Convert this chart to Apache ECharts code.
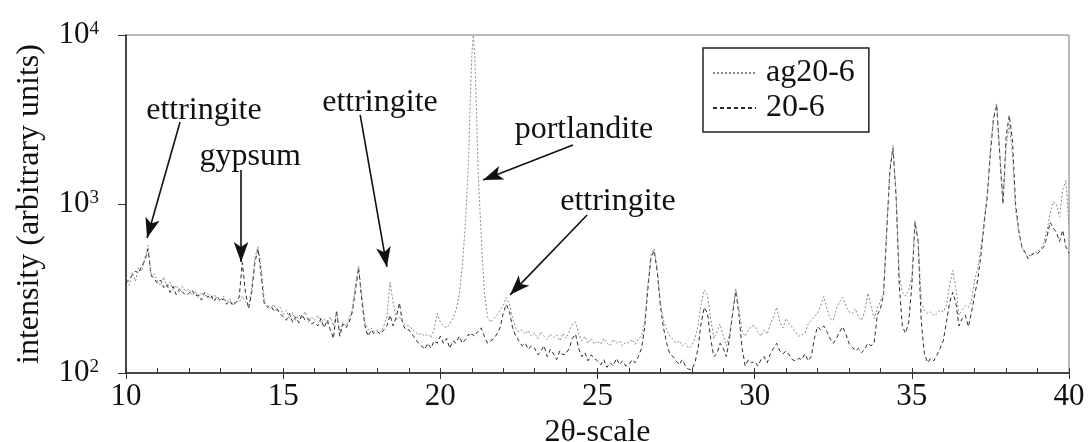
<!DOCTYPE html>
<html>
<head>
<meta charset="utf-8">
<script src="https://cdn.jsdelivr.net/npm/echarts@6/dist/echarts.min.js"></script>
<style>
  html, body { margin: 0; padding: 0; background: #fff; }
  #chart { width: 1089px; height: 442px; }
</style>
</head>
<body>
<div id="chart"></div>
<script>
// 2-theta positions (deg), rows per degree
const twoTheta = [
  10.0, 10.1, 10.2, 10.3, 10.4, 10.5, 10.6, 10.7, 10.8, 10.9,
  11.0, 11.1, 11.2, 11.3, 11.4, 11.5, 11.6, 11.7, 11.8, 11.9,
  12.0, 12.1, 12.2, 12.3, 12.4, 12.5, 12.6, 12.7, 12.8, 12.9,
  13.0, 13.1, 13.2, 13.3, 13.4, 13.5, 13.6, 13.7, 13.8, 13.9,
  14.0, 14.1, 14.2, 14.3, 14.4, 14.5, 14.6, 14.7, 14.8, 14.9,
  15.0, 15.1, 15.2, 15.3, 15.4, 15.5, 15.6, 15.7, 15.8, 15.9,
  16.0, 16.1, 16.2, 16.3, 16.4, 16.5, 16.6, 16.7, 16.8, 16.9,
  17.0, 17.1, 17.2, 17.3, 17.4, 17.5, 17.6, 17.7, 17.8, 17.9,
  18.0, 18.1, 18.2, 18.3, 18.4, 18.5, 18.6, 18.7, 18.8, 18.9,
  19.0, 19.1, 19.2, 19.3, 19.4, 19.5, 19.6, 19.7, 19.8, 19.9,
  20.0, 20.1, 20.2, 20.3, 20.4, 20.5, 20.6, 20.7, 20.8, 20.9, 20.95,
  21.0, 21.05, 21.1, 21.15, 21.2, 21.3, 21.4, 21.5, 21.6, 21.7, 21.8, 21.9,
  22.0, 22.1, 22.2, 22.3, 22.4, 22.5, 22.6, 22.7, 22.8, 22.9,
  23.0, 23.1, 23.2, 23.3, 23.4, 23.5, 23.6, 23.7, 23.8, 23.9,
  24.0, 24.1, 24.2, 24.3, 24.4, 24.5, 24.6, 24.7, 24.8, 24.9,
  25.0, 25.1, 25.2, 25.3, 25.4, 25.5, 25.6, 25.7, 25.8, 25.9,
  26.0, 26.1, 26.2, 26.3, 26.4, 26.5, 26.6, 26.7, 26.8, 26.9,
  27.0, 27.1, 27.2, 27.3, 27.4, 27.5, 27.6, 27.7, 27.8, 27.9,
  28.0, 28.1, 28.2, 28.3, 28.4, 28.5, 28.6, 28.7, 28.8, 28.9,
  29.0, 29.1, 29.2, 29.3, 29.4, 29.5, 29.6, 29.7, 29.8, 29.9,
  30.0, 30.1, 30.2, 30.3, 30.4, 30.5, 30.6, 30.7, 30.8, 30.9,
  31.0, 31.1, 31.2, 31.3, 31.4, 31.5, 31.6, 31.7, 31.8, 31.9,
  32.0, 32.1, 32.2, 32.3, 32.4, 32.5, 32.6, 32.7, 32.8, 32.9,
  33.0, 33.1, 33.2, 33.3, 33.4, 33.5, 33.6, 33.7, 33.8, 33.9,
  34.0, 34.1, 34.2, 34.3, 34.4, 34.5, 34.6, 34.7, 34.8, 34.9,
  35.0, 35.1, 35.2, 35.3, 35.4, 35.5, 35.6, 35.7, 35.8, 35.9,
  36.0, 36.1, 36.2, 36.3, 36.4, 36.5, 36.6, 36.7, 36.8, 36.9,
  37.0, 37.1, 37.2, 37.3, 37.4, 37.5, 37.6, 37.7, 37.8, 37.9,
  38.0, 38.1, 38.2, 38.3, 38.4, 38.5, 38.6, 38.7, 38.8, 38.9,
  39.0, 39.1, 39.2, 39.3, 39.4, 39.5, 39.6, 39.7, 39.8, 39.9,
  40.0
];

// ag20-6 intensity
const ag206 = [
  370, 330, 395, 350, 420, 400, 480, 570, 370, 385,
  350, 330, 370, 320, 345, 310, 330, 300, 325, 305,
  315, 290, 305, 280, 300, 285, 295, 275, 290, 280,
  270, 285, 262, 275, 255, 268, 262, 285, 265, 245,
  320, 480, 560, 420, 265, 250, 240, 255, 230, 245,
  222, 235, 210, 228, 205, 220, 212, 230, 200, 215,
  205, 220, 198, 210, 195, 215, 190, 225, 175, 200,
  190, 210, 240, 330, 430, 290, 200, 180, 185, 175,
  180, 175, 190, 215, 345, 260, 205, 215, 200, 190,
  190, 182, 175, 168, 172, 165, 170, 162, 180, 225,
  200, 190, 185, 195, 210, 235, 290, 430, 780, 1900, 4000,
  7500, 10000, 7200, 3600, 1600, 650, 300, 215, 200, 210, 220, 235,
  250, 280, 255, 210, 185, 175, 180, 170, 178, 165,
  172, 160, 175, 165, 158, 170, 162, 168, 155, 172,
  160, 175, 195, 200, 170, 155, 165, 150, 160, 148,
  155, 148, 160, 150, 145, 158, 150, 155, 145, 152,
  150, 158, 148, 160, 165, 200, 330, 500, 545, 420,
  260, 205, 180, 165, 158, 150, 155, 145, 150, 140,
  145, 160, 190, 260, 310, 290, 210, 160, 175, 195,
  165, 145, 170, 230, 315, 240, 175, 165, 180, 190,
  190, 175, 165, 180, 170, 195, 215, 245, 200, 185,
  210, 195, 185, 175, 165, 168, 172, 195, 205, 215,
  225, 250, 283, 240, 210, 205, 240, 265, 280, 250,
  230, 225, 240, 215, 205, 230, 296, 250, 210, 240,
  265, 300, 700, 1600, 2230, 1150, 380, 300, 285, 310,
  370, 800, 620, 260, 235, 225, 230, 218, 225, 235,
  230, 250, 330, 405, 320, 220, 235, 250, 245, 270,
  355, 420, 555, 800, 1160, 2100, 3300, 3950, 2000, 1050,
  2200, 2950, 2000, 920, 680, 555, 510, 490, 505, 520,
  520, 545, 590, 700, 880, 1030, 1000, 840, 1210, 1380,
  730
];

// 20-6 intensity
const s206 = [
  340, 360, 380, 400, 390, 430, 460, 540, 380, 360,
  340, 355, 320, 335, 300, 325, 290, 315, 300, 290,
  295, 310, 285, 290, 270, 300, 280, 290, 265, 285,
  265, 275, 255, 268, 250, 262, 280, 450, 300, 240,
  300, 450, 545, 380, 255, 245, 250, 235, 240, 225,
  215, 205, 225, 200, 215, 198, 222, 205, 210, 195,
  200, 190, 210, 185, 205, 180, 160, 235, 165, 195,
  185, 200, 230, 310, 420, 270, 190, 165, 180, 170,
  175, 170, 180, 190, 220, 190, 215, 260, 195, 180,
  180, 170, 160, 150, 145, 138, 150, 140, 155, 150,
  165, 150, 160, 140, 155, 150, 165, 150, 158, 170, 165,
  170, 168, 165, 172, 175, 185, 165, 150, 155, 160, 170, 185,
  225, 255, 230, 185, 165, 155, 145, 150, 138, 145,
  140, 128, 135, 145, 125, 138, 130, 120, 135, 128,
  130, 140, 160, 170, 140, 125, 132, 118, 128, 122,
  118, 112, 120, 108, 115, 110, 122, 112, 118, 110,
  112, 120, 115, 125, 140, 185, 310, 480, 530, 400,
  250, 185, 150, 130, 125, 118, 112, 120, 110, 105,
  105, 115, 140, 200, 245, 225, 160, 125, 130, 150,
  140, 125, 160, 225, 305, 220, 140, 110, 120, 115,
  117, 110, 120, 125, 115, 130, 140, 150, 135, 130,
  135, 128, 120, 118, 122, 120, 130, 118, 125, 160,
  188, 180, 190, 175, 160, 150, 160, 175, 188, 170,
  150, 143, 135, 140, 132, 138, 150, 145, 150, 220,
  240, 290, 680, 1550, 2150, 1100, 330, 188, 172, 200,
  330, 780, 600, 200, 130, 115, 122, 118, 128, 140,
  155, 200, 260, 300, 260, 190, 210, 220, 188, 230,
  290, 360, 500, 760, 1100, 2000, 3200, 3850, 1900, 1000,
  2500, 3350, 2400, 1000, 700, 560, 520, 475, 500, 510,
  510, 530, 560, 640, 780, 720, 680, 600, 700, 560,
  510
];

const xLabels = [10, 15, 20, 25, 30, 35, 40];
const yTicks = [100, 1000, 10000];
const yExps = ['2', '3', '4'];

// phase labels: text anchor, arrow start, arrow tip (data coords)
const phaseNames = ['ettringite', 'gypsum', 'ettringite', 'portlandite', 'ettringite'];
const phaseText = [[12.48, 3594], [13.95, 1897], [18.08, 3963], [24.57, 2741], [25.65, 1028]];
const arrowFrom = [[11.72, 3055], [13.66, 1589], [17.45, 3365], [24.22, 2233], [24.67, 861]];
const arrowTo = [[10.67, 630], [13.66, 454], [18.30, 424], [21.36, 1387], [22.22, 290]];

const serif = 'Liberation Serif';
const myChart = echarts.init(document.getElementById('chart'));

myChart.setOption({
  animation: false,
  grid: {
    left: 126, right: 20, top: 35, bottom: 69,
    outerBoundsMode: 'none',
    show: true, borderColor: '#777', borderWidth: 1
  },
  legend: {
    left: 703, top: 48,
    orient: 'vertical',
    backgroundColor: '#fff',
    borderColor: '#222', borderWidth: 1.5,
    padding: [9, 14, 8, 9],
    itemGap: 3,
    itemWidth: 43, itemHeight: 14,
    itemStyle: { opacity: 0 },
    textStyle: { fontFamily: serif, fontSize: 32, color: '#111', lineHeight: 32, padding: [0, 0, 0, 5] },
    data: ['ag20-6', '20-6']
  },
  xAxis: [{
    type: 'value', min: 10, max: 40, interval: 1,
    name: '2θ-scale', nameLocation: 'middle', nameGap: 34,
    nameTextStyle: { fontFamily: serif, fontSize: 32, color: '#111' },
    axisLine: { lineStyle: { color: '#222', width: 1.5 } },
    axisTick: { inside: true, length: 5, lineStyle: { color: '#333' } },
    axisLabel: {
      fontFamily: serif, fontSize: 31, color: '#111', margin: 8,
      formatter: v => xLabels.indexOf(v) >= 0 ? String(v) : ''
    },
    splitLine: { show: false }
  }, {
    type: 'value', min: 10, max: 40, interval: 5, position: 'bottom',
    axisLine: { show: false },
    axisTick: { inside: false, length: 6, lineStyle: { color: '#333' } },
    axisLabel: { show: false },
    splitLine: { show: false }
  }],
  yAxis: {
    type: 'log', logBase: 10, min: 100, max: 10000,
    name: 'intensity (arbitrary units)', nameLocation: 'middle', nameGap: 80,
    nameTextStyle: { fontFamily: serif, fontSize: 32, color: '#111' },
    axisLine: { show: true, lineStyle: { color: '#222', width: 1.5 } },
    axisTick: { show: true, length: 8, lineStyle: { color: '#333' } },
    axisLabel: {
      margin: 27,
      formatter: v => {
        const i = yTicks.indexOf(Math.round(v));
        return i < 0 ? '' : '{b|10}{s|' + yExps[i] + '}';
      },
      rich: {
        b: { fontFamily: serif, fontSize: 31, color: '#111', lineHeight: 31 },
        s: { fontFamily: serif, fontSize: 19, color: '#111', verticalAlign: 'top', lineHeight: 19, padding: [0, 0, 8, 0] }
      }
    },
    splitLine: { show: false }
  },
  series: [{
    name: 'ag20-6',
    type: 'line',
    xAxisIndex: 0,
    data: twoTheta.map((t, i) => [t, ag206[i]]),
    showSymbol: false, symbol: 'none',
    lineStyle: { color: '#8a8a8a', width: 1, type: [2, 2] },
    itemStyle: { color: '#8a8a8a' },
    z: 3,
    markLine: {
      silent: true,
      symbol: ['none', 'arrow'],
      symbolSize: [11, 20],
      label: { show: false },
      lineStyle: { color: '#111', width: 1.6, type: 'solid' },
      data: arrowFrom.map((p, i) => [{ coord: p }, { coord: arrowTo[i] }])
    },
    markPoint: {
      silent: true,
      symbol: 'rect', symbolSize: 1,
      itemStyle: { color: 'rgba(0,0,0,0)' },
      label: {
        show: true, position: 'inside', formatter: '{b}',
        fontFamily: serif, fontSize: 32, color: '#111'
      },
      data: phaseText.map((p, i) => ({ name: phaseNames[i], coord: p }))
    }
  }, {
    name: '20-6',
    type: 'line',
    xAxisIndex: 0,
    data: twoTheta.map((t, i) => [t, s206[i]]),
    showSymbol: false, symbol: 'none',
    lineStyle: { color: '#2a2a2a', width: 1, type: [4, 3] },
    itemStyle: { color: '#2a2a2a' },
    z: 2
  }]
});
</script>
</body>
</html>
